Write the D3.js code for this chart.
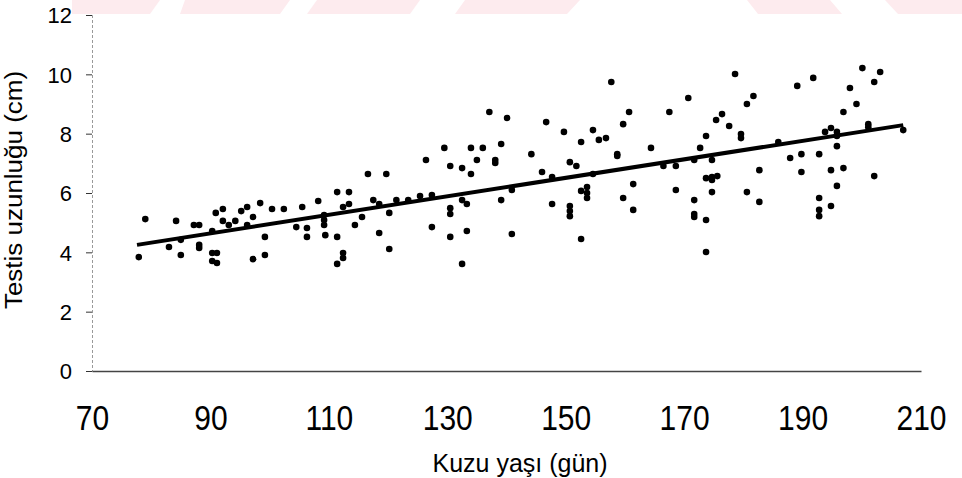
<!DOCTYPE html>
<html>
<head>
<meta charset="utf-8">
<script src="https://cdn.jsdelivr.net/npm/d3@7"></script>
<style>
  body { margin: 0; background: #fff; }
  svg { display: block; font-family: "Liberation Sans", Arial, sans-serif; }
</style>
</head>
<body>
<div class="chart"></div>
<script>
// age of lamb (days) and testis length (cm)
const ageDays = [
  79.0, 77.9, 84.2, 83.0, 85.0, 85.0, 87.2, 88.1, 88.1, 88.1,
  90.3, 90.3, 91.1, 90.3, 91.1, 90.9, 92.1, 92.1, 93.1, 94.2,
  95.2, 96.2, 97.2, 96.2, 98.4, 99.2, 99.2, 97.2, 100.4, 102.4,
  104.5, 105.5, 106.3, 106.3, 108.2, 109.2, 109.2, 109.2, 109.4, 111.4,
  111.4, 111.4, 112.4, 112.4, 112.4, 113.4, 113.4, 114.4, 115.6, 116.6,
  117.5, 118.5, 118.5, 119.7, 120.2, 120.2, 121.4, 123.4, 125.4, 126.4,
  127.4, 127.4, 129.5, 130.5, 130.5, 130.5, 130.5, 132.5, 132.5, 133.3,
  133.3, 132.5, 134.0, 134.0, 135.0, 136.0, 137.1, 138.1, 138.1, 139.1,
  139.1, 140.1, 140.9, 140.9, 144.2, 146.0, 146.7, 147.7, 147.7, 149.7,
  150.7, 151.8, 150.7, 150.7, 150.7, 152.6, 152.6, 153.6, 153.6, 153.6,
  152.6, 154.6, 154.6, 155.6, 156.8, 157.7, 158.7, 158.7, 159.7, 159.7,
  160.7, 161.4, 161.4, 164.4, 166.5, 167.5, 168.6, 168.6, 170.7, 171.7,
  171.7, 171.7, 171.7, 172.7, 173.7, 173.7, 173.7, 173.7, 174.7, 174.7,
  174.7, 175.6, 174.7, 175.4, 178.6, 176.4, 177.6, 179.6, 179.6, 180.6,
  181.7, 180.6, 182.7, 182.7, 185.9, 187.9, 189.1, 189.8, 189.8, 191.8,
  192.8, 192.8, 192.8, 192.8, 193.8, 194.8, 194.8, 194.8, 195.8, 195.8,
  195.8, 195.8, 196.9, 196.9, 198.0, 199.1, 200.1, 201.1, 201.1, 202.1,
  202.1, 203.1, 207.0
];
const testisCm = [
  5.12, 3.84, 5.06, 4.18, 3.91, 4.42, 4.92, 4.92, 4.25, 4.15,
  4.72, 3.98, 3.98, 3.71, 3.64, 5.33, 5.46, 5.06, 4.92, 5.06,
  5.39, 5.53, 5.19, 4.92, 5.66, 4.52, 3.91, 3.77, 5.46, 5.46,
  4.85, 5.53, 4.82, 4.52, 5.73, 5.26, 5.09, 4.92, 4.58, 6.03,
  4.52, 3.61, 3.98, 3.81, 5.53, 6.03, 5.63, 4.92, 5.19, 6.64,
  5.76, 5.63, 4.65, 6.64, 5.33, 4.11, 5.76, 5.76, 5.90, 7.11,
  5.93, 4.85, 7.52, 6.91, 5.49, 5.29, 4.52, 6.84, 5.76, 5.63,
  4.72, 3.61, 7.52, 6.64, 7.11, 7.52, 8.73, 7.11, 7.01, 7.65,
  5.76, 8.53, 6.10, 4.62, 7.31, 6.71, 8.39, 5.63, 6.54, 8.06,
  7.04, 6.91, 5.56, 5.39, 5.22, 7.72, 6.07, 6.20, 6.00, 5.83,
  4.45, 8.12, 6.64, 7.79, 7.85, 9.74, 7.31, 7.25, 8.32, 5.83,
  8.73, 6.30, 5.43, 7.52, 6.91, 8.73, 6.91, 6.10, 9.20, 7.11,
  5.76, 5.29, 5.19, 7.52, 7.92, 6.50, 5.09, 4.01, 7.11, 6.54,
  6.44, 6.57, 6.03, 8.46, 10.01, 8.66, 8.26, 7.99, 7.85, 9.00,
  9.27, 6.03, 6.77, 5.70, 7.72, 7.18, 9.61, 7.31, 6.71, 9.88,
  7.31, 5.83, 5.43, 5.22, 8.06, 8.19, 6.77, 5.56, 8.06, 7.92,
  7.58, 6.24, 8.73, 6.84, 9.54, 9.00, 10.21, 8.32, 8.22, 9.74,
  6.57, 10.08, 8.12
];

// fitted line: y = b0 + b1 * x over the observed age range
const fitIntercept = 1.83;
const fitSlope = 0.0312;
const fitRange = [77.6, 207.0];

const xTicks = [70, 90, 110, 130, 150, 170, 190, 210];
const yTicks = [0, 2, 4, 6, 8, 10, 12];

const width = 962;
const height = 478;
const svg = d3.select('.chart')
    .append('svg')
    .attr('width', width)
    .attr('height', height);

// faint pink watermark band at the top of the scan
const band = [
    [72, 160, 72, 150], [185, 290, 180, 280], [317, 420, 307, 410],
    [465, 580, 455, 567], [747, 830, 758, 842], [885, 962, 898, 962]
];
svg.selectAll('.wm')
    .data(band)
    .enter()
    .append('polygon')
    .attr('class', 'wm')
    .attr('points', d => `${d[0]},0 ${d[1]},0 ${d[3]},14 ${d[2]},14`)
    .attr('fill', '#fdebee');

const x = d3.scaleLinear().domain([70, 210]).range([92, 921]);
const y = d3.scaleLinear().domain([0, 12]).range([371, 15]);

// y axis
const yAxis = svg.append('g')
    .attr('transform', 'translate(92,0)')
    .call(d3.axisLeft(y).tickValues(yTicks).tickSize(6).tickPadding(14).tickFormat(d3.format('d')));
yAxis.select('.domain').attr('stroke', '#999').attr('stroke-dasharray', '3,2');
yAxis.selectAll('.tick line').attr('stroke', '#333');
yAxis.selectAll('text')
    .attr('font-size', 22)
    .attr('fill', '#000')
    .attr('dy', '0.36em');

// x axis (scan is slightly stretched vertically)
const xAxis = svg.append('g')
    .attr('transform', 'translate(0,371)')
    .call(d3.axisBottom(x).tickValues(xTicks).tickSize(0).tickFormat(d3.format('d')));
xAxis.select('.domain').attr('stroke', '#444').attr('stroke-width', 1.5);
xAxis.selectAll('text')
    .attr('font-size', 30)
    .attr('fill', '#000')
    .attr('y', 0)
    .attr('dy', 0)
    .attr('transform', 'translate(0,59) scale(1,1.16)');

// points
svg.selectAll('circle')
    .data(ageDays.map((d, i) => ({ age: d, len: testisCm[i] })))
    .enter()
    .append('circle')
    .attr('cx', d => x(d.age))
    .attr('cy', d => y(d.len))
    .attr('r', 3.3)
    .attr('fill', '#000');

// regression line
svg.append('line')
    .attr('x1', x(fitRange[0]))
    .attr('y1', y(fitIntercept + fitSlope * fitRange[0]))
    .attr('x2', x(fitRange[1]))
    .attr('y2', y(fitIntercept + fitSlope * fitRange[1]))
    .attr('stroke', '#000')
    .attr('stroke-width', 4);

// axis titles
svg.append('text')
    .attr('x', 520)
    .attr('y', 472)
    .attr('text-anchor', 'middle')
    .attr('font-size', 25)
    .text('Kuzu yaşı (gün)');

svg.append('text')
    .attr('transform', 'translate(22,190) rotate(-90) scale(1.13,1)')
    .attr('text-anchor', 'middle')
    .attr('font-size', 23)
    .text('Testis uzunluğu (cm)');
</script>
</body>
</html>
